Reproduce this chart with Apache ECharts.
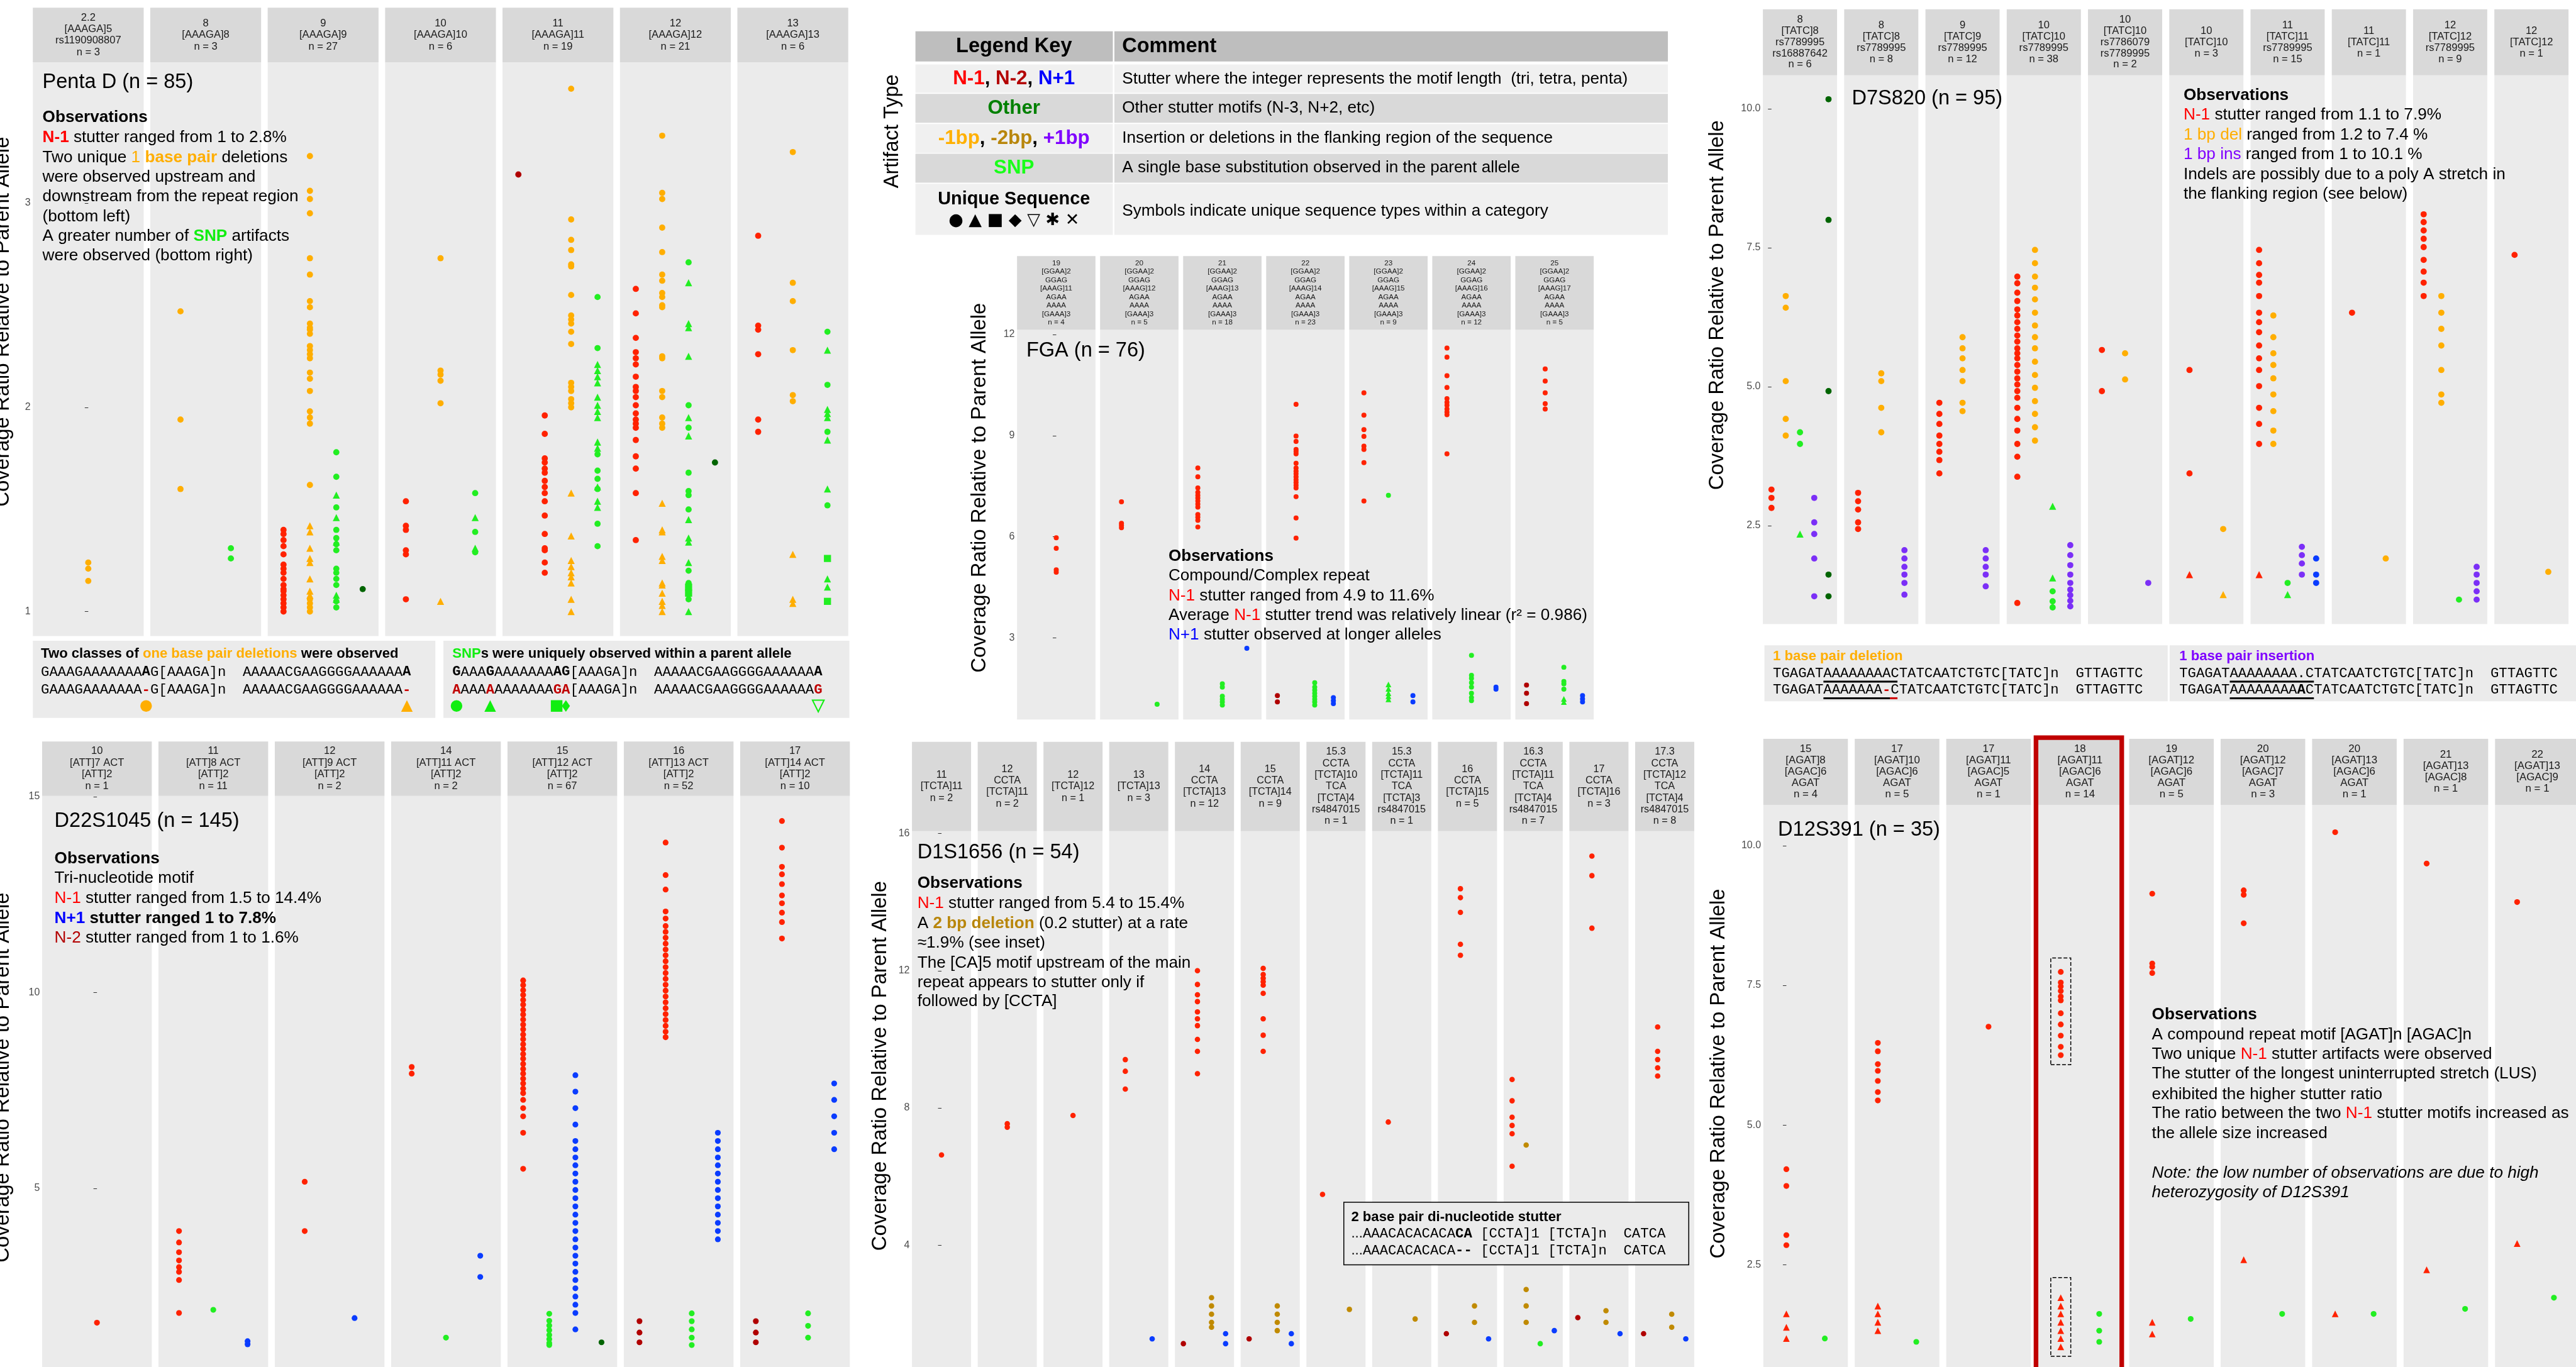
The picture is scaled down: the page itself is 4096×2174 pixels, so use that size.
<!DOCTYPE html>
<html>
<head>
<meta charset="utf-8">
<script src="https://cdn.jsdelivr.net/npm/echarts@6.0.0/dist/echarts.min.js"></script>
<style>
  html, body { margin: 0; padding: 0; background: #fff; }
  #chart { width: 4096px; height: 2174px; }
</style>
</head>
<body>
<div id="chart"></div>
<script>
// artifact types, in the order they sit along each facet's x axis
var typeNames = ['N-2', 'N-1', '-2bp', '-1bp', 'SNP', '+1bp', 'N+1', 'Other'];
var typeColors = ['#b00000', '#ff2200', '#c08a00', '#ffae00', '#22ee22', '#7b2ff7', '#0a3cff', '#006400'];

// ---- Penta D ----
var pentaFacets = ['2.2\n[AAAGA]5\nrs1190908807\nn = 3', '8\n[AAAGA]8\nn = 3', '9\n[AAAGA]9\nn = 27', '10\n[AAAGA]10\nn = 6',
  '11\n[AAAGA]11\nn = 19', '12\n[AAAGA]12\nn = 21', '13\n[AAAGA]13\nn = 6'];
var pentaN2 = [[], [], [], [], [3.14], [], []];
var pentaN1 = [[], [],
  [1.40, 1.38, 1.35, 1.32, 1.28, 1.23, 1.21, 1.19, 1.16, 1.13, 1.11, 1.10, 1.08, 1.06, 1.04, 1.02, 1.0],
  [1.54, 1.42, 1.40, 1.30, 1.28, 1.06],
  [1.96, 1.87, 1.75, 1.73, 1.70, 1.68, 1.64, 1.61, 1.58, 1.54, 1.47, 1.38, 1.31, 1.30, 1.24, 1.19],
  [2.58, 2.46, 2.34, 2.27, 2.24, 2.21, 2.15, 2.10, 2.08, 2.05, 2.01, 1.97, 1.94, 1.92, 1.90, 1.84, 1.76, 1.70, 1.58, 1.35],
  [2.84, 2.40, 2.38, 2.26, 1.94, 1.88]];
var pentaDel = [[1.24, 1.21, 1.15], [2.47, 1.94, 1.60],
  [3.23, 3.06, 3.02, 2.95, 2.73, 2.65, 2.52, 2.49, 2.41, 2.39, 2.38, 2.36, 2.30, 2.28, 2.26, 2.24, 2.17, 2.14, 2.08, 1.98, 1.95, 1.92, 1.62, 1.06, 1.04, 1.02, 1.0],
  [2.73, 2.18, 2.16, 2.13, 2.02],
  [3.56, 2.92, 2.82, 2.77, 2.70, 2.69, 2.55, 2.45, 2.43, 2.41, 2.37, 2.31, 2.12, 2.10, 2.08, 2.04, 2.02, 2.0],
  [3.33, 3.05, 3.02, 2.88, 2.76, 2.65, 2.62, 2.56, 2.54, 2.50, 2.49, 2.25, 2.24, 2.08, 2.05, 1.95, 1.92, 1.90],
  [3.25, 2.61, 2.52, 2.28, 2.06, 2.03]];
var pentaDelTri = [[], [], [1.42, 1.39, 1.31, 1.26, 1.24, 1.16, 1.10, 1.08], [1.05],
  [1.58, 1.37, 1.25, 1.22, 1.19, 1.17, 1.14, 1.06, 1.0],
  [1.53, 1.40, 1.39, 1.27, 1.25, 1.14, 1.13, 1.09, 1.05, 1.03, 1.0], [1.28, 1.06, 1.04]];
var pentaSnp = [[], [1.31, 1.26], [1.78, 1.66, 1.51, 1.40, 1.36, 1.33, 1.30, 1.21, 1.19, 1.16, 1.13, 1.05, 1.02],
  [1.58, 1.39, 1.29], [2.54, 2.29, 1.77, 1.69, 1.65, 1.60, 1.43, 1.32],
  [2.71, 2.01, 1.90, 1.68, 1.59, 1.57, 1.50, 1.20, 1.14, 1.10, 1.06], [2.37, 2.11, 1.88, 1.52]];
var pentaSnpTri = [[], [], [1.57, 1.46, 1.34, 1.08, 1.06], [1.46, 1.31],
  [2.21, 2.18, 2.15, 2.12, 2.05, 2.01, 1.98, 1.95, 1.83, 1.80, 1.61, 1.54, 1.51],
  [2.61, 2.41, 2.39, 2.25, 1.95, 1.86, 1.45, 1.36, 1.34, 1.24, 1.0],
  [2.28, 1.99, 1.97, 1.95, 1.84, 1.60, 1.16, 1.12]];
var pentaSnpSq = [[], [], [], [], [], [1.12, 1.09], [1.26, 1.05]];
var pentaOther = [[], [], [1.11], [], [], [1.73], []];

// ---- FGA ----
var fgaFacets = [19, 20, 21, 22, 23, 24, 25].map(function (a, i) {
  return a + '\n[GGAA]2\nGGAG\n[AAAG]' + (11 + i) + '\nAGAA\nAAAA\n[GAAA]3\nn = ' + [4, 5, 18, 23, 9, 12, 5][i];
});
var fgaN2 = [[], [], [], [1.29, 1.10], [], [], [1.60, 1.36, 1.05]];
var fgaN1 = [[5.97, 5.66, 5.02, 4.95], [7.04, 6.40, 6.34, 6.27],
  [8.04, 7.78, 7.45, 7.32, 7.23, 7.15, 7.06, 6.97, 6.88, 6.66, 6.58, 6.49, 6.29],
  [9.93, 8.99, 8.83, 8.59, 8.53, 8.46, 8.18, 8.04, 7.95, 7.87, 7.78, 7.69, 7.61, 7.53, 7.45, 7.19, 6.56, 5.96],
  [10.27, 9.61, 9.18, 8.98, 8.69, 8.59, 8.20, 7.06],
  [11.60, 11.33, 10.78, 10.43, 10.10, 9.99, 9.90, 9.79, 9.70, 9.62, 8.46],
  [10.98, 10.62, 10.27, 9.95, 9.79]];
var fgaSnp = [[], [1.03], [1.64, 1.54, 1.27, 1.18, 1.10, 1.01], [1.67, 1.54, 1.45, 1.36, 1.27, 1.18, 1.10, 1.01],
  [7.23], [2.48, 1.89, 1.80, 1.67, 1.54, 1.36, 1.23, 1.14], [2.13, 1.71, 1.64, 1.48]];
var fgaSnpTri = [[], [], [], [], [1.62, 1.49, 1.36, 1.27, 1.18], [], [1.19, 1.10]];
var fgaN1plus = [[], [], [2.69], [1.23, 1.14, 1.05], [1.29, 1.10], [1.54, 1.48], [1.29, 1.19, 1.10]];

// ---- D7S820 ----
var d7Facets = ['8\n[TATC]8\nrs7789995\nrs16887642\nn = 6', '8\n[TATC]8\nrs7789995\nn = 8', '9\n[TATC]9\nrs7789995\nn = 12',
  '10\n[TATC]10\nrs7789995\nn = 38', '10\n[TATC]10\nrs7786079\nrs7789995\nn = 2', '10\n[TATC]10\nn = 3',
  '11\n[TATC]11\nrs7789995\nn = 15', '11\n[TATC]11\nn = 1', '12\n[TATC]12\nrs7789995\nn = 9', '12\n[TATC]12\nn = 1'];
var d7N1 = [[3.15, 3.0, 2.82], [3.09, 2.94, 2.79, 2.56, 2.44], [4.71, 4.51, 4.33, 4.12, 3.97, 3.83, 3.68, 3.44],
  [6.98, 6.86, 6.69, 6.54, 6.39, 6.28, 6.16, 6.04, 5.92, 5.81, 5.69, 5.60, 5.51, 5.39, 5.27, 5.15, 5.04, 4.92, 4.80, 4.62, 4.42, 4.21, 3.97, 3.74, 3.38, 1.11],
  [5.66, 4.92], [5.30, 3.44],
  [7.46, 7.22, 7.01, 6.87, 6.63, 6.33, 6.16, 5.98, 5.74, 5.51, 5.30, 5.01, 4.62, 4.33, 3.97],
  [6.33], [8.10, 7.96, 7.81, 7.66, 7.51, 7.28, 7.07, 6.87, 6.63], [7.37]];
var d7N1Tri = [[], [], [], [], [], [1.62], [1.62], [], [], []];
var d7Del = [[6.63, 6.42, 5.10, 4.42, 4.12], [5.24, 5.10, 4.62, 4.18], [5.89, 5.69, 5.51, 5.30, 5.10, 4.71, 4.56],
  [7.46, 7.22, 6.98, 6.78, 6.57, 6.33, 6.10, 5.89, 5.69, 5.45, 5.21, 4.98, 4.74, 4.51, 4.27, 4.03],
  [5.60, 5.13], [2.44], [6.28, 5.89, 5.60, 5.39, 5.15, 4.86, 4.56, 4.21, 3.97], [1.91],
  [6.63, 6.33, 6.04, 5.74, 5.30, 4.86, 4.71], [1.67]];
var d7DelTri = [[], [], [], [], [], [1.26], [], [], [], []];
var d7Snp = [[4.18, 3.97], [], [], [1.32, 1.14, 1.03], [], [], [1.47], [], [1.17], []];
var d7SnpTri = [[2.35], [], [], [2.85, 1.56], [], [], [1.26], [], [], []];
var d7Ins = [[3.0, 2.56, 2.35, 1.91, 1.23], [2.06, 1.91, 1.76, 1.62, 1.47, 1.26], [2.06, 1.91, 1.76, 1.62, 1.41],
  [2.15, 1.97, 1.79, 1.62, 1.47, 1.35, 1.25, 1.15, 1.05], [1.47], [], [2.12, 1.97, 1.82, 1.62], [],
  [1.76, 1.62, 1.47, 1.32, 1.17], []];
var d7N1plus = [[], [], [], [], [], [], [1.91, 1.62, 1.47], [], [], []];
var d7Other = [[10.17, 8.0, 4.92, 1.62, 1.23], [], [], [], [], [], [], [], [], []];

// ---- D22S1045 ----
var d22Facets = [[10, 7, 1], [11, 8, 11], [12, 9, 2], [14, 11, 2], [15, 12, 67], [16, 13, 52], [17, 14, 10]].map(function (a) {
  return a[0] + '\n[ATT]' + a[1] + ' ACT\n[ATT]2\nn = ' + a[2];
});
var d22N2 = [[], [], [], [], [], [1.61, 1.32, 1.07], [1.61, 1.32, 1.07]];
var d22N1 = [[1.57], [3.91, 3.62, 3.37, 3.16, 2.99, 2.87, 2.66, 1.82], [5.17, 3.91], [8.10, 7.93],
  [10.31, 10.19, 10.06, 9.94, 9.81, 9.69, 9.56, 9.44, 9.31, 9.18, 9.06, 8.93, 8.81, 8.68, 8.56, 8.43, 8.31, 8.18, 8.05, 7.93, 7.80, 7.68, 7.55, 7.43, 7.26, 7.05, 6.84, 6.42, 5.50],
  [13.83, 13.0, 12.63, 12.07, 11.89, 11.7, 11.55, 11.4, 11.25, 11.1, 10.95, 10.8, 10.65, 10.5, 10.35, 10.2, 10.05, 9.9, 9.75, 9.6, 9.45, 9.3, 9.15, 9.0, 8.86],
  [14.38, 13.70, 13.21, 13.02, 12.77, 12.48, 12.28, 12.04, 11.80, 11.38]];
var d22Snp = [[], [1.90], [], [1.19], [1.80, 1.62, 1.50, 1.38, 1.26, 1.15, 1.05, 1.0], [1.81, 1.61, 1.40, 1.19, 1.0], [1.81, 1.49, 1.19]];
var d22N1plus = [[], [1.10, 1.02], [1.69], [3.28, 2.74],
  [7.89, 7.47, 7.05, 6.63, 6.21, 6.0, 5.79, 5.59, 5.38, 5.17, 4.96, 4.75, 4.54, 4.33, 4.12, 3.91, 3.70, 3.49, 3.28, 3.08, 2.87, 2.66, 2.45, 2.24, 2.03, 1.82, 1.40],
  [6.42, 6.21, 6.0, 5.79, 5.59, 5.38, 5.17, 4.96, 4.75, 4.54, 4.33, 4.12, 3.91, 3.70],
  [7.68, 7.26, 6.84, 6.42, 6.0]];
var d22Other = [[], [], [], [], [1.07], [], []];

// ---- D1S1656 ----
var d1Facets = ['11\n[TCTA]11\nn = 2', '12\nCCTA\n[TCTA]11\nn = 2', '12\n[TCTA]12\nn = 1', '13\n[TCTA]13\nn = 3',
  '14\nCCTA\n[TCTA]13\nn = 12', '15\nCCTA\n[TCTA]14\nn = 9', '15.3\nCCTA\n[TCTA]10\nTCA\n[TCTA]4\nrs4847015\nn = 1',
  '15.3\nCCTA\n[TCTA]11\nTCA\n[TCTA]3\nrs4847015\nn = 1', '16\nCCTA\n[TCTA]15\nn = 5',
  '16.3\nCCTA\n[TCTA]11\nTCA\n[TCTA]4\nrs4847015\nn = 7', '17\nCCTA\n[TCTA]16\nn = 3',
  '17.3\nCCTA\n[TCTA]12\nTCA\n[TCTA]4\nrs4847015\nn = 8'];
var d1N2 = [[], [], [], [], [1.13], [1.27], [], [], [1.42], [], [1.89], [1.42]];
var d1N1 = [[6.63], [7.54, 7.44], [7.78], [9.41, 9.07, 8.55], [12.0, 11.6, 11.3, 11.1, 10.8, 10.6, 10.4, 10.0, 9.65, 9.0],
  [12.07, 11.89, 11.78, 11.68, 11.58, 11.34, 10.60, 10.12, 9.65], [5.48], [7.59], [14.39, 14.13, 13.70, 12.77, 12.45],
  [8.83, 8.21, 7.73, 7.49, 7.25, 6.30], [15.34, 14.77, 13.24], [10.36, 9.65, 9.41, 9.17, 8.93]];
var d1Del2 = [[], [], [], [], [2.47, 2.23, 1.99, 1.75, 1.61], [2.23, 1.99, 1.75, 1.51], [2.13], [1.85], [2.23, 1.75],
  [6.92, 2.71, 2.23, 1.75], [2.09, 1.75], [1.99, 1.61]];
var d1Snp = [[], [], [], [], [], [], [], [], [], [1.13], [], []];
var d1N1plus = [[], [], [], [1.27], [1.42, 1.13], [1.42, 1.13], [], [], [1.27], [1.51], [1.42], [1.27]];

// ---- D12S391 ----
var d12Facets = ['15\n[AGAT]8\n[AGAC]6\nAGAT\nn = 4', '17\n[AGAT]10\n[AGAC]6\nAGAT\nn = 5', '17\n[AGAT]11\n[AGAC]5\nAGAT\nn = 1',
  '18\n[AGAT]11\n[AGAC]6\nAGAT\nn = 14', '19\n[AGAT]12\n[AGAC]6\nAGAT\nn = 5', '20\n[AGAT]12\n[AGAC]7\nAGAT\nn = 3',
  '20\n[AGAT]13\n[AGAC]6\nAGAT\nn = 1', '21\n[AGAT]13\n[AGAC]8\nn = 1', '22\n[AGAT]13\n[AGAC]9\nn = 1'];
var d12N1 = [[4.21, 3.91, 3.03, 2.85], [6.47, 6.32, 6.09, 5.97, 5.79, 5.59, 5.44], [6.76],
  [7.74, 7.55, 7.48, 7.40, 7.30, 7.23, 7.0, 6.8, 6.6, 6.4, 6.25], [9.14, 7.89, 7.83, 7.72], [9.20, 9.12, 8.61],
  [10.24], [9.68], [8.99]];
var d12N1Tri = [[1.62, 1.38, 1.18], [1.76, 1.62, 1.47, 1.32], [], [1.91, 1.76, 1.62, 1.47, 1.32, 1.18, 1.03],
  [1.47, 1.26], [2.59], [1.62], [2.41], [2.88]];
var d12Snp = [[1.18], [1.12], [], [1.62, 1.32, 1.12], [1.53], [1.62], [1.62], [1.71], [1.91]];

// ---------------------------------------------------------------------
var K = 4096 / 6669;               // reference px -> window px
function px(v) { return +(v * K).toFixed(2); }
var SANS = 'Liberation Sans, Arial, Helvetica, sans-serif';
var MONO = 'Liberation Mono, Courier New, monospace';
var RED = '#ff0000', DRED = '#b30000', BLUE = '#0000ff', ORANGE = '#ffae00', GOLD = '#b8860b',
  PURPLE = '#7f00ff', LIME = '#11ee11', DGREEN = '#008000';

var panels = [
  { facets: pentaFacets, x0: 85, w: 287, step: 304, stripTop: 20, top: 161, bottom: 1647,
    ymin: 0.88, ymax: 3.69, ticks: [1, 2, 3], digits: 0, dot: 16, sf: 27, sl: 30, title: [8, 833],
    layers: [[0, 'circle', pentaN2], [1, 'circle', pentaN1], [3, 'circle', pentaDel], [3, 'triangle', pentaDelTri],
      [4, 'circle', pentaSnp], [4, 'triangle', pentaSnpTri], [4, 'rect', pentaSnpSq], [7, 'circle', pentaOther]] },
  { facets: fgaFacets, x0: 2633, w: 203, step: 215, stripTop: 663, top: 854, bottom: 1863,
    ymin: 0.58, ymax: 12.14, ticks: [3, 6, 9, 12], digits: 0, dot: 13, sf: 19, sl: 22, title: [2537, 1263],
    layers: [[0, 'circle', fgaN2], [1, 'circle', fgaN1], [4, 'circle', fgaSnp], [4, 'triangle', fgaSnpTri], [6, 'circle', fgaN1plus]] },
  { facets: d7Facets, x0: 4564, w: 192, step: 210.4, stripTop: 24, top: 195, bottom: 1616,
    ymin: 0.73, ymax: 10.6, ticks: [2.5, 5, 7.5, 10], digits: 1, dot: 16, sf: 27, sl: 29, title: [4447, 790],
    layers: [[1, 'circle', d7N1], [1, 'triangle', d7N1Tri], [3, 'circle', d7Del], [3, 'triangle', d7DelTri],
      [4, 'circle', d7Snp], [4, 'triangle', d7SnpTri], [5, 'circle', d7Ins], [6, 'circle', d7N1plus], [7, 'circle', d7Other]] },
  { facets: d22Facets, x0: 109, w: 284, step: 301.2, stripTop: 1920, top: 2061, bottom: 3540,
    ymin: 0.44, ymax: 15.02, ticks: [5, 10, 15], digits: 0, dot: 15, sf: 27, sl: 30, title: [8, 2790],
    layers: [[0, 'circle', d22N2], [1, 'circle', d22N1], [4, 'circle', d22Snp], [6, 'circle', d22N1plus], [7, 'circle', d22Other]] },
  { facets: d1Facets, x0: 2361, w: 153, step: 170.2, stripTop: 1921, top: 2152, bottom: 3540,
    ymin: 0.45, ymax: 16.07, ticks: [4, 8, 12, 16], digits: 0, dot: 14, sf: 26.4, sl: 29.8, title: [2280, 2760],
    layers: [[0, 'circle', d1N2], [1, 'circle', d1N1], [2, 'circle', d1Del2], [4, 'circle', d1Snp], [6, 'circle', d1N1plus]] },
  { facets: d12Facets, x0: 4565, w: 219, step: 236.8, stripTop: 1913, top: 2084, bottom: 3540,
    ymin: 0.67, ymax: 10.73, ticks: [2.5, 5, 7.5, 10], digits: 1, dot: 15, sf: 27.5, sl: 29.5, title: [4449, 2780],
    layers: [[1, 'circle', d12N1], [1, 'triangle', d12N1Tri], [4, 'circle', d12Snp]] }
];

var grids = [], xAxes = [], yAxes = [], series = [], els = [];

function txt(x, y, segs, size, align, extra) {
  var rich = {}, s = '';
  segs.forEach(function (g, i) {
    var k = 's' + i;
    rich[k] = { fontSize: px(size), fontFamily: g.m ? MONO : SANS, fontWeight: g.b ? 'bold' : 'normal',
      fontStyle: g.i ? 'italic' : 'normal', fill: g.c || '#000' };
    s += '{' + k + '|' + g.t + '}';
  });
  var el = { type: 'text', x: px(x), y: px(y), z: 100, silent: true,
    style: { text: s, rich: rich, align: align || 'left', verticalAlign: 'middle',
      textAlign: align || 'left', textVerticalAlign: 'middle' } };
  if (extra) Object.keys(extra).forEach(function (k) { el[k] = extra[k]; });
  els.push(el);
}
function N(t, c) { return { t: t, c: c }; }
function B(t, c) { return { t: t, c: c, b: 1 }; }
function M(t, c, b) { return { t: t, c: c, b: b, m: 1 }; }
function I(t) { return { t: t, i: 1 }; }
function rect(x, y, w, h, style) {
  els.push({ type: 'rect', z: 90, silent: true, shape: { x: px(x), y: px(y), width: px(w), height: px(h) }, style: style });
}

panels.forEach(function (p, pi) {
  p.facets.forEach(function (label, f) {
    var left = p.x0 + f * p.step;
    var cols = [];
    p.layers.forEach(function (l) { if (l[2][f].length && cols.indexOf(l[0]) < 0) cols.push(l[0]); });
    cols.sort(function (a, b) { return a - b; });
    var gi = grids.length;
    grids.push({ left: px(left), top: px(p.top), width: px(p.w), height: px(p.bottom - p.top),
      show: true, backgroundColor: '#ebebeb', borderWidth: 0 });
    xAxes.push({ gridIndex: gi, type: 'value', min: -0.6, max: cols.length - 0.4, show: false });
    yAxes.push({ gridIndex: gi, type: 'value', min: p.ymin, max: p.ymax, show: f === 0,
      axisLine: { show: false }, splitLine: { show: false },
      axisTick: { show: true, customValues: p.ticks, length: px(9), lineStyle: { color: '#333', width: 1 } },
      axisLabel: { customValues: p.ticks, color: '#4d4d4d', fontSize: px(26), fontFamily: SANS, margin: px(6),
        formatter: function (v) { return (+v).toFixed(p.digits); } } });
    p.layers.forEach(function (l) {
      var vals = l[2][f];
      if (!vals.length) return;
      var s = { type: 'scatter', xAxisIndex: gi, yAxisIndex: gi, symbol: l[1],
        symbolSize: px(l[1] === 'circle' ? p.dot : p.dot * 1.15), silent: true,
        itemStyle: { color: typeColors[l[0]], opacity: 1 },
        data: vals.map(function (v) { return [cols.indexOf(l[0]), v]; }) };
      // dotted boxes around the two N-1 motifs of D12S391 allele 18
      if (pi === 5 && f === 3 && l[0] === 1 && l[1] === 'circle') {
        s.markArea = { silent: true, itemStyle: { color: 'rgba(0,0,0,0)', borderColor: '#000', borderType: 'dashed', borderWidth: 1.5 },
          data: [[{ coord: [-0.26, 6.08] }, { coord: [0.26, 7.99] }], [{ coord: [-0.26, 0.86] }, { coord: [0.26, 2.27] }]] };
      }
      series.push(s);
    });
    // facet strip
    rect(left, p.stripTop, p.w, p.top - p.stripTop, { fill: '#d9d9d9' });
    els.push({ type: 'text', z: 100, silent: true, x: px(left + p.w / 2), y: px((p.stripTop + p.top) / 2),
      style: { text: label, fill: '#1a1a1a', fontSize: px(p.sf), fontFamily: SANS, lineHeight: px(p.sl),
        align: 'center', verticalAlign: 'middle', textAlign: 'center', textVerticalAlign: 'middle' } });
  });
  // y axis title
  els.push({ type: 'text', z: 100, silent: true, x: px(p.title[0]), y: px(p.title[1]), rotation: Math.PI / 2,
    style: { text: 'Coverage Ratio Relative to Parent Allele', fill: '#000', fontSize: px(53.5), fontFamily: SANS,
      align: 'center', verticalAlign: 'middle', textAlign: 'center', textVerticalAlign: 'middle' } });
});

// ---- panel titles and observations ----
var OB = 42.6, TI = 53;
txt(110, 214, [N('Penta D (n = 85)')], TI);
[[304, [B('Observations')]],
 [357, [B('N-1', RED), N(' stutter ranged from 1 to 2.8%')]],
 [408, [N('Two unique '), N('1 ', ORANGE), B('base pair', ORANGE), N(' deletions')]],
 [459, [N('were observed upstream and')]],
 [510, [N('downstream from the repeat region')]],
 [561, [N('(bottom left)')]],
 [612, [N('A greater number of '), B('SNP', LIME), N(' artifacts')]],
 [663, [N('were observed (bottom right)')]]].forEach(function (r) { txt(110, r[0], r[1], OB); });

txt(2657, 908, [N('FGA (n = 76)')], TI);
[[1440, [B('Observations')]],
 [1491, [N('Compound/Complex repeat')]],
 [1543, [N('N-1', RED), N(' stutter ranged from 4.9 to 11.6%')]],
 [1594, [N('Average '), N('N-1', RED), N(' stutter trend was relatively linear (r\u00b2 = 0.986)')]],
 [1644, [N('N+1', BLUE), N(' stutter observed at longer alleles')]]].forEach(function (r) { txt(3025, r[0], r[1], OB); });

txt(4794, 255, [N('D7S820 (n = 95)')], TI);
[[247, [B('Observations')]],
 [298, [N('N-1', RED), N(' stutter ranged from 1.1 to 7.9%')]],
 [349, [N('1 bp del', ORANGE), N(' ranged from 1.2 to 7.4 %')]],
 [400, [N('1 bp ins', PURPLE), N(' ranged from 1 to 10.1 %')]],
 [452, [N('Indels are possibly due to a poly A stretch in')]],
 [503, [N('the flanking region (see below)')]]].forEach(function (r) { txt(5653, r[0], r[1], OB); });

txt(141, 2126, [N('D22S1045 (n = 145)')], TI);
[[2224, [B('Observations')]],
 [2275, [N('Tri-nucleotide motif')]],
 [2326, [N('N-1', RED), N(' stutter ranged from 1.5 to 14.4%')]],
 [2378, [B('N+1', BLUE), B(' stutter ranged 1 to 7.8%')]],
 [2429, [N('N-2', DRED), N(' stutter ranged from 1 to 1.6%')]]].forEach(function (r) { txt(141, r[0], r[1], OB); });

txt(2375, 2208, [N('D1S1656 (n = 54)')], TI);
[[2288, [B('Observations')]],
 [2340, [N('N-1', RED), N(' stutter ranged from 5.4 to 15.4%')]],
 [2391, [N('A '), B('2 bp deletion', GOLD), N(' (0.2 stutter) at a rate')]],
 [2442, [N('\u22481.9% (see inset)')]],
 [2494, [N('The [CA]5 motif upstream of the main')]],
 [2545, [N('repeat appears to stutter only if')]],
 [2594, [N('followed by [CCTA]')]]].forEach(function (r) { txt(2375, r[0], r[1], OB); });

txt(4603, 2150, [N('D12S391 (n = 35)')], TI);
[[2628, [B('Observations')]],
 [2680, [N('A compound repeat motif [AGAT]n [AGAC]n')]],
 [2730, [N('Two unique '), N('N-1', RED), N(' stutter artifacts were observed')]],
 [2781, [N('The stutter of the longest uninterrupted stretch (LUS)')]],
 [2835, [N('exhibited the higher stutter ratio')]],
 [2883, [N('The ratio between the two '), N('N-1', RED), N(' stutter motifs increased as')]],
 [2935, [N('the allele size increased')]],
 [3037, [I('Note: the low number of observations are due to high')]],
 [3088, [I('heterozygosity of D12S391')]]].forEach(function (r) { txt(5571, r[0], r[1], OB); });

// ---- legend key table ----
var LX0 = 2370, LX1 = 2881, LX2 = 2885, LX3 = 4318, LC = 2625, CX = 2905;
[[81, 159, '#bebebe'], [167, 240, '#f0f0f0'], [243, 318, '#d9d9d9'], [321, 396, '#f0f0f0'],
 [398, 473, '#d9d9d9'], [476, 608, '#f0f0f0']].forEach(function (r) {
  rect(LX0, r[0], LX1 - LX0, r[1] - r[0], { fill: r[2] });
  rect(LX2, r[0], LX3 - LX2, r[1] - r[0], { fill: r[2] });
});
txt(LC, 120, [B('Legend Key')], 53, 'center');
txt(CX, 120, [B('Comment')], 53);
txt(LC, 204, [B('N-1', RED), B(', '), B('N-2', DRED), B(', '), B('N+1', BLUE)], 51, 'center');
txt(CX, 204, [N('Stutter where the integer represents the motif length  (tri, tetra, penta)')], OB);
txt(LC, 280, [B('Other', DGREEN)], 51, 'center');
txt(CX, 280, [N('Other stutter motifs (N-3, N+2, etc)')], OB);
txt(LC, 358, [B('-1bp', '#ffb000'), B(', '), B('-2bp', GOLD), B(', '), B('+1bp', PURPLE)], 51, 'center');
txt(CX, 358, [N('Insertion or deletions in the flanking region of the sequence')], OB);
txt(LC, 435, [B('SNP', '#1aff1a')], 51, 'center');
txt(CX, 435, [N('A single base substitution observed in the parent allele')], OB);
txt(LC, 517, [B('Unique Sequence')], 47, 'center');
els.push({ type: 'text', z: 100, silent: true, x: px(LC), y: px(572),
  style: { text: '\u25cf \u25b2 \u25a0 \u25c6 \u25bd \u2731 \u2715', fill: '#000', fontSize: px(44), fontFamily: 'DejaVu Sans',
    align: 'center', verticalAlign: 'middle', textAlign: 'center', textVerticalAlign: 'middle' } });
txt(CX, 546, [N('Symbols indicate unique sequence types within a category')], OB);
els.push({ type: 'text', z: 100, silent: true, x: px(2310), y: px(340), rotation: Math.PI / 2,
  style: { text: 'Artifact Type', fill: '#000', fontSize: px(53), fontFamily: SANS,
    align: 'center', verticalAlign: 'middle', textAlign: 'center', textVerticalAlign: 'middle' } });

// ---- sequence boxes ----
var SQ = 36.3, CW = SQ * 0.6;
function mark(x, y, symbol, color) {
  var size = px(30);
  var shape;
  if (symbol === 'circle') shape = { type: 'circle', shape: { cx: px(x), cy: px(y), r: size / 2 } };
  else if (symbol === 'rect') shape = { type: 'rect', shape: { x: px(x) - size / 2, y: px(y) - size / 2, width: size, height: size } };
  else {
    var h = size / 2, pts;
    if (symbol === 'triangle') pts = [[0, -h], [h, h], [-h, h]];
    else if (symbol === 'diamond') pts = [[0, -h], [h * 0.7, 0], [0, h], [-h * 0.7, 0]];
    else pts = [[-h, -h], [h, -h], [0, h]];
    shape = { type: 'polygon', shape: { points: pts.map(function (q) { return [px(x) + q[0], px(y) + q[1]]; }) } };
  }
  shape.z = 100; shape.silent = true;
  shape.style = symbol === 'down' ? { fill: 'none', stroke: color, lineWidth: 2 } : { fill: color };
  els.push(shape);
}
function uline(x, y, c0, c1, color) {
  els.push({ type: 'line', z: 100, silent: true, shape: { x1: px(x + CW * c0), y1: px(y), x2: px(x + CW * c1), y2: px(y) },
    style: { stroke: color || '#000', lineWidth: px(5) } });
}

// Penta D, bottom left / right
rect(85, 1659, 1042, 200, { fill: '#ebebeb' });
rect(1148, 1659, 1051, 200, { fill: '#ebebeb' });
txt(106, 1693, [B('Two classes of '), B('one base pair deletions', ORANGE), B(' were observed')], 36);
txt(106, 1740, [M('GAAAGAAAAAAA'), M('A', '#000', 1), M('G[AAAGA]n  AAAAACGAAGGGGAAAAAA'), M('A', '#000', 1)], SQ);
txt(106, 1786, [M('GAAAGAAAAAAA'), M('-', '#d00000', 1), M('G[AAAGA]n  AAAAACGAAGGGGAAAAAA'), M('-', '#d00000', 1)], SQ);
mark(106 + CW * 12.5, 1828, 'circle', ORANGE);
mark(106 + CW * 43.5, 1828, 'triangle', ORANGE);
txt(1171, 1693, [B('SNP', LIME), B('s were uniquely observed within a parent allele')], 36);
txt(1171, 1740, [M('G', '#000', 1), M('AAA'), M('G', '#000', 1), M('AAAAAAA'), M('AG', '#000', 1),
  M('[AAAGA]n  AAAAACGAAGGGGAAAAAA'), M('A', '#000', 1)], SQ);
txt(1171, 1786, [M('A', '#c00000', 1), M('AAA'), M('A', '#c00000', 1), M('AAAAAAA'), M('GA', '#c00000', 1),
  M('[AAAGA]n  AAAAACGAAGGGGAAAAAA'), M('G', '#c00000', 1)], SQ);
mark(1171 + CW * 0.5, 1828, 'circle', LIME);
mark(1171 + CW * 4.5, 1828, 'triangle', LIME);
mark(1171 + CW * 12.4, 1828, 'rect', LIME);
mark(1171 + CW * 13.5, 1828, 'diamond', LIME);
mark(1171 + CW * 43.5, 1828, 'down', LIME);

// D7S820, below the panel
rect(4568, 1671, 1044, 145, { fill: '#ebebeb' });
rect(5617, 1671, 1060, 145, { fill: '#ebebeb' });
txt(4590, 1700, [B('1 base pair deletion', ORANGE)], 36);
txt(4590, 1744, [M('TGAGATAAAAAAAACTATCAATCTGTC[TATC]n  GTTAGTTC')], SQ);
uline(4590, 1765, 6, 14.8);
txt(4590, 1787, [M('TGAGATAAAAAAA'), M('-', '#d00000', 1), M('CTATCAATCTGTC[TATC]n  GTTAGTTC')], SQ);
uline(4590, 1808, 6, 13.9);
uline(4590, 1808, 13.9, 14.8, '#d00000');
txt(5642, 1700, [B('1 base pair insertion', PURPLE)], 36);
txt(5642, 1744, [M('TGAGATAAAAAAAA.CTATCAATCTGTC[TATC]n  GTTAGTTC')], SQ);
uline(5642, 1765, 6, 16);
txt(5642, 1787, [M('TGAGATAAAAAAAA'), M('A', '#000', 1), M('CTATCAATCTGTC[TATC]n  GTTAGTTC')], SQ);
uline(5642, 1808, 6, 16);

// D1S1656 inset
els.push({ type: 'rect', z: 95, silent: true, shape: { x: px(3479), y: px(3113), width: px(893), height: px(162) },
  style: { fill: '#ebebeb', stroke: '#000', lineWidth: 1.5 } });
txt(3498, 3152, [B('2 base pair di-nucleotide stutter')], 36);
txt(3498, 3195, [N('...'), M('AAACACACACA'), M('CA', '#000', 1), M(' [CCTA]1 [TCTA]n  CATCA')], SQ);
txt(3498, 3238, [N('...'), M('AAACACACACA'), M('--', '#000', 1), M(' [CCTA]1 [TCTA]n  CATCA')], SQ);

// red frame around D12S391 allele 18
els.push({ type: 'rect', z: 96, silent: true, shape: { x: px(5271), y: px(1910), width: px(222), height: px(1700) },
  style: { fill: 'none', stroke: '#c00000', lineWidth: px(12) } });

var chart = echarts.init(document.getElementById('chart'), null, { renderer: 'canvas' });
chart.setOption({
  animation: false,
  backgroundColor: '#ffffff',
  grid: grids,
  xAxis: xAxes,
  yAxis: yAxes,
  series: series,
  graphic: { elements: els }
});
window.addEventListener('resize', chart.resize);
</script>
</body>
</html>
